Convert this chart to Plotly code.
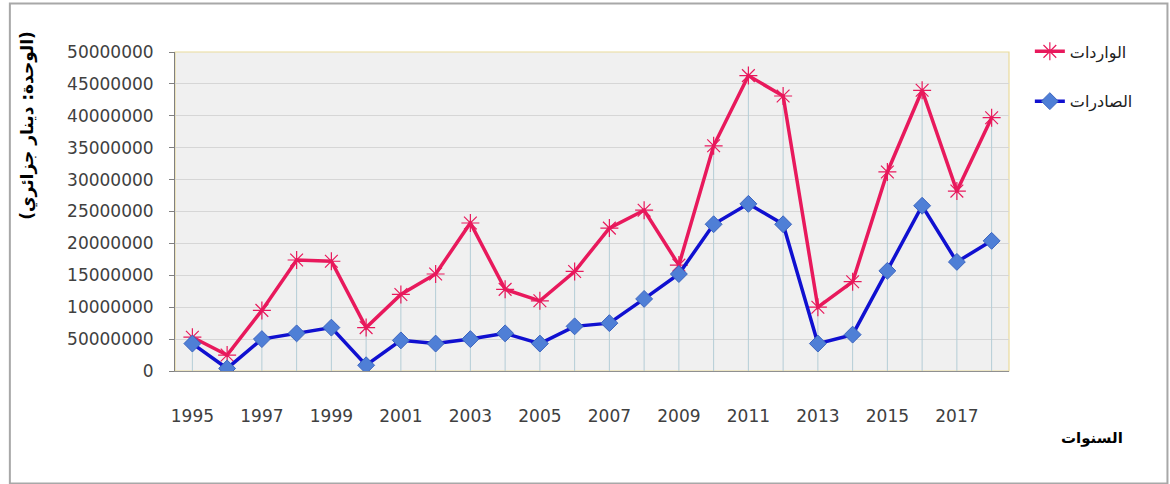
import plotly.graph_objects as go

years = list(range(1995, 2019))
imports_vals = [5.3e6, 2.5e6, 9.5e6, 17.4e6, 17.2e6, 6.8e6, 12.0e6, 15.2e6, 23.2e6, 12.8e6,
                11.0e6, 15.6e6, 22.4e6, 25.2e6, 16.6e6, 35.3e6, 46.3e6, 43.1e6, 10.0e6, 14.0e6,
                31.2e6, 44.0e6, 28.2e6, 39.7e6]
exports_vals = [4.3e6, 0.4e6, 5.0e6, 5.9e6, 6.8e6, 0.9e6, 4.8e6, 4.3e6, 5.0e6, 5.9e6,
                4.3e6, 7.0e6, 7.5e6, 11.3e6, 15.2e6, 23.0e6, 26.2e6, 23.0e6, 4.3e6, 5.7e6,
                15.7e6, 25.9e6, 17.1e6, 20.4e6]
ytick_vals = [0, 5e6, 10e6, 15e6, 20e6, 25e6, 30e6, 35e6, 40e6, 45e6, 50e6]
ytick_text = ["0", "50000000", "10000000", "15000000", "20000000", "25000000",
              "30000000", "35000000", "40000000", "45000000", "50000000"]
xtick_vals = list(range(1995, 2018, 2))
name_imports = "الواردات"
name_exports = "الصادرات"
y_title = "(الوحدة: دينار جزائري)"
x_title = "السنوات"

# drop lines from the highest series down to the axis
drop_x, drop_y = [], []
for yr, a, b in zip(years, imports_vals, exports_vals):
    drop_x += [yr, yr, None]
    drop_y += [0, max(a, b), None]

fig = go.Figure()
fig.add_trace(go.Scatter(x=drop_x, y=drop_y, mode="lines",
                         line=dict(color="#b4cdd6", width=1),
                         showlegend=False, hoverinfo="skip"))
fig.add_trace(go.Scatter(x=years, y=imports_vals, name=name_imports, mode="lines+markers",
                         legendgroup="a",
                         line=dict(color="#e8195c", width=3.5),
                         marker=dict(symbol="asterisk-open", size=15,
                                     line=dict(color="#ee8aa6", width=1.2))))
fig.add_trace(go.Scatter(x=years, y=exports_vals, name=name_exports, mode="lines+markers",
                         legendgroup="b",
                         line=dict(color="#1010d0", width=3.5),
                         marker=dict(symbol="diamond", size=13, color="#4f7fd6",
                                     line=dict(color="#3a64c0", width=1))))

fig.update_layout(
    width=1170, height=484,
    margin=dict(l=175, r=161, t=52, b=113),
    paper_bgcolor="white",
    plot_bgcolor="#f0f0f0",
    font=dict(family="DejaVu Sans", color="#404040"),
    legend=dict(x=1.025, y=1.055, xanchor="left", yanchor="top",
                font=dict(size=16, color="#202020"),
                tracegroupgap=26, bgcolor="rgba(0,0,0,0)"),
    shapes=[
        dict(type="rect", xref="paper", yref="paper", x0=0, x1=1, y0=0, y1=1,
             line=dict(color="#eadb9c", width=1.2), layer="below"),
        dict(type="rect", xref="paper", yref="paper", x0=-0.198, x1=1.19, y0=-0.353, y1=1.152,
             line=dict(color="#a8a8a8", width=2)),
    ],
    annotations=[
        dict(text="<b>" + y_title + "</b>", xref="paper", yref="paper", x=-0.177, y=0.77,
             textangle=-90, showarrow=False, font=dict(size=17, color="#000000", family="DejaVu Sans"),
             xanchor="center", yanchor="middle"),
        dict(text="<b>" + x_title + "</b>", xref="paper", yref="paper", x=1.1, y=-0.21,
             showarrow=False, font=dict(size=15, color="#000000"),
             xanchor="center", yanchor="middle"),
    ],
)
fig.update_xaxes(range=[1994.5, 2018.5], tickvals=xtick_vals, ticktext=[str(v) for v in xtick_vals],
                 showgrid=False, zeroline=False, showline=True, linecolor="#909090",
                 ticks="", ticklabelstandoff=30, tickfont=dict(size=17, color="#404040"))
fig.update_yaxes(range=[0, 50e6], tickvals=ytick_vals, ticktext=ytick_text,
                 showgrid=True, gridcolor="#d6d6d6", gridwidth=1, zeroline=False,
                 showline=True, linecolor="#808080", ticks="outside", ticklen=5,
                 tickcolor="#808080", ticklabelstandoff=12,
                 tickfont=dict(size=17, color="#404040"))

fig.write_html("out.html")
